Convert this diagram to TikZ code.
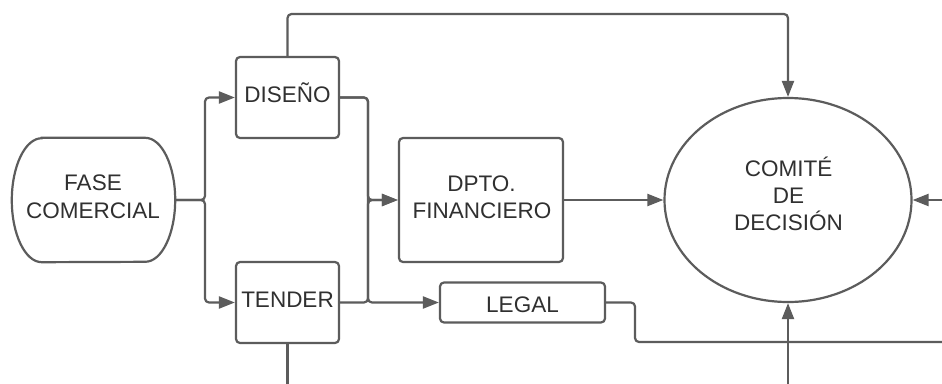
\documentclass[tikz,border=0pt]{standalone}
\usepackage{fontspec}
\setmainfont{Liberation Sans}
\usetikzlibrary{arrows.meta,shapes.geometric}
\definecolor{ln}{HTML}{5C5C5C}
\definecolor{tx}{HTML}{303030}
\begin{document}
\begin{tikzpicture}[x=1pt,y=-1pt,
  box/.style={draw=ln, line width=2.2pt, rounded corners=4pt, inner sep=0pt},
  conn/.style={draw=ln, line width=2.2pt, rounded corners=4pt},
  arr/.style={conn, -{Triangle[length=16pt,width=12pt]}},
  txt/.style={text=tx, font=\fontsize{22.5}{27}\selectfont, anchor=base, inner sep=0pt}]
\useasboundingbox[fill=white] (0,0) rectangle (942,383);

% shapes
\node[inner sep=0pt, minimum width=163pt, minimum height=124pt] (fase) at (93.5,200) {};
\draw[draw=ln, line width=2.2pt] ([xshift=30pt]fase.north west) -- ([xshift=-30pt]fase.north east)
  arc[start angle=-90, end angle=90, x radius=30, y radius=62]
  -- ([xshift=30pt]fase.south west)
  arc[start angle=90, end angle=270, x radius=30, y radius=62] -- cycle;
\node[box, minimum width=103pt, minimum height=81pt] (dis) at (287.5,97.5) {};
\node[box, minimum width=103pt, minimum height=81pt] (ten) at (287.5,302.5) {};
\node[box, minimum width=164pt, minimum height=124pt] (dpto) at (481,200) {};
\node[box, minimum width=165pt, minimum height=40pt] (legal) at (522.5,302.5) {};
\node[draw=ln, line width=2.2pt, ellipse, inner sep=0pt, minimum width=247pt, minimum height=204pt] (com) at (788,200) {};

% texts
\node[txt] (t1) at (93,190.5) {FASE};
\node[txt] (t2) at (93,218) {COMERCIAL};
\node[txt] (t3) at (287.5,102) {DISEÑO};
\node[txt] (t4) at (287.5,307) {TENDER};
\node[txt] (t5) at (481.5,191) {DPTO.};
\node[txt] (t6) at (482,218.5) {FINANCIERO};
\node[txt] (t7) at (522.5,312.5) {LEGAL};
\node[txt] (t8) at (788.5,176) {COMITÉ};
\node[txt] (t9) at (788.5,203.3) {DE};
\node[txt] (t10) at (788.5,230.5) {DECISIÓN};

% connectors
\coordinate (j1) at (205,200);
\coordinate (j2) at (368,200);
\coordinate (j3) at (368,302.5);
\coordinate (top) at (287.5,14);
\coordinate (r1) at (945,200);
\coordinate (lg1) at (635,302.5);
\coordinate (r2) at (945,342);
\coordinate (b1) at (287.5,386);
\coordinate (b2) at (788,386);

\draw[arr] (fase.east) -- (j1) |- (dis.west);
\draw[arr] (fase.east) -- (j1) |- (ten.west);
\draw[arr] (dis.east) -| (j2) -- (dpto.west);
\draw[arr] (ten.east) -| (j2) -- (dpto.west);
\draw[arr] (dis.east) -| (j3) -- (legal.west);
\draw[arr] (dpto.east) -- (com.west);
\draw[arr] (r1) -- (com.east);
\draw[arr] (dis.north) -- (top) -| (com.north);
\draw[conn] (legal.east) -- (lg1) |- (r2);
\draw[conn] (ten.south) -- (b1);
\draw[arr] (b2) -- (com.south);
\end{tikzpicture}
\end{document}
